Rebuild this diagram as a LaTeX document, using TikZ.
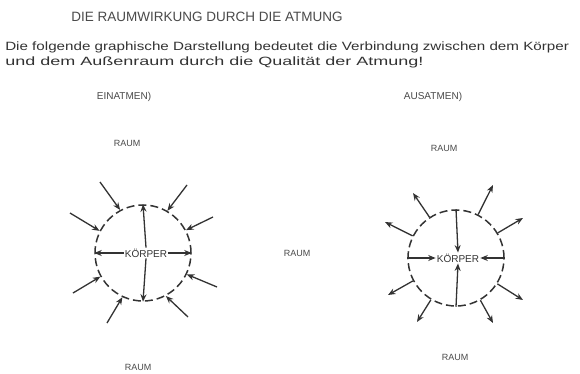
\documentclass[tikz,border=0pt]{standalone}
\usepackage{fontspec}
\setmainfont{Liberation Sans}
\usetikzlibrary{arrows.meta}
\definecolor{ink}{HTML}{333333}
\definecolor{pen}{HTML}{4A4A4A}
\begin{document}
\begin{tikzpicture}[x=1pt,y=-1pt,
  lbl/.style={text=pen,inner sep=1pt,font=\fontsize{9}{10}\selectfont},
  dcirc/.style={circle,draw=ink,line width=1.5pt,dash pattern=on 8pt off 4pt,minimum size=96pt,inner sep=0pt},
  arr/.style={draw=ink,line width=1.3pt,-{Stealth[length=7.5pt,width=6pt]}},
  body/.style={text=ink,inner sep=1pt,font=\fontsize{10}{11}\selectfont},
  hand/.style={text=ink,font=\fontsize{12}{13}\selectfont,anchor=west,inner sep=0pt,transform shape}]
\useasboundingbox[fill=white] (0,0) rectangle (580,374);
% heading
\node[text=pen,font=\fontsize{13.5}{14}\selectfont,inner sep=0pt] (title) at (207,17) {DIE RAUMWIRKUNG DURCH DIE ATMUNG};
\node[hand,xscale=1.265] (l1) at (5,47) {Die folgende graphische Darstellung bedeutet die Verbindung zwischen dem Körper};
\node[hand,xscale=1.5] (l2) at (5,62) {und dem Außenraum durch die Qualität der Atmung!};
% column heads
\node[lbl,font=\fontsize{10}{11}\selectfont] (ein) at (124,97) {EINATMEN)};
\node[lbl,font=\fontsize{10}{11}\selectfont] (aus) at (433,97) {AUSATMEN)};
% RAUM labels
\node[lbl] (r1) at (127,143) {RAUM};
\node[lbl] (r2) at (444,148) {RAUM};
\node[lbl] (r3) at (297,253) {RAUM};
\node[lbl] (r4) at (138,367) {RAUM};
\node[lbl] (r5) at (455,357) {RAUM};
% left: Einatmen
\node[dcirc] (L) at (143,253) {};
\node[body] (LK) at (146,253) {KÖRPER};
\draw[arr] (LK.north) -- (L.north);
\draw[arr] (LK.south) -- (L.south);
\draw[arr] (LK.west) -- (L.west);
\draw[arr] (LK.east) -- (L.east);
\coordinate (la1) at (100,182);
\coordinate (la2) at (187,185);
\coordinate (la3) at (70,213);
\coordinate (la4) at (213,217);
\coordinate (la5) at (73,293);
\coordinate (la6) at (217,287);
\coordinate (la7) at (107,323);
\coordinate (la8) at (188,317);
\draw[arr] (la1) -- (L.118);
\draw[arr] (la2) -- (L.60);
\draw[arr] (la3) -- (L.153);
\draw[arr] (la4) -- (L.28);
\draw[arr] (la5) -- (L.209);
\draw[arr] (la6) -- (L.334);
\draw[arr] (la7) -- (L.245);
\draw[arr] (la8) -- (L.298);
% right: Ausatmen
\node[dcirc] (R) at (456,258) {};
\node[body] (RK) at (458,258) {KÖRPER};
\draw[arr] (R.north) -- (RK.north);
\draw[arr] (R.south) -- (RK.south);
\draw[arr] (R.west) -- (RK.west);
\draw[arr] (R.east) -- (RK.east);
\coordinate (ra1) at (413,193);
\coordinate (ra2) at (493,185);
\coordinate (ra3) at (385,222);
\coordinate (ra4) at (523,218);
\coordinate (ra5) at (388,295);
\coordinate (ra6) at (523,300);
\coordinate (ra7) at (417,322);
\coordinate (ra8) at (493,323);
\draw[arr] (R.123) -- (ra1);
\draw[arr] (R.63) -- (ra2);
\draw[arr] (R.153) -- (ra3);
\draw[arr] (R.31) -- (ra4);
\draw[arr] (R.208) -- (ra5);
\draw[arr] (R.328) -- (ra6);
\draw[arr] (R.239) -- (ra7);
\draw[arr] (R.300) -- (ra8);
\end{tikzpicture}
\end{document}
